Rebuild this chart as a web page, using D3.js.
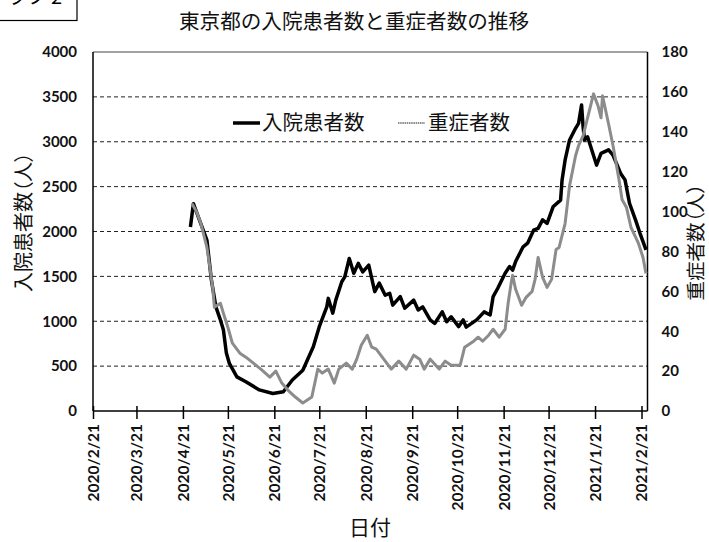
<!DOCTYPE html>
<html><head><meta charset="utf-8">
<script src="https://cdn.jsdelivr.net/npm/d3@7"></script>
<style>body{margin:0;background:#fff} svg{display:block}</style>
</head><body><svg id="c" width="709" height="542"></svg>
<script>
const chartTitle = "東京都の入院患者数と重症者数の推移";
const seriesNames = ["入院患者数", "重症者数"];
const leftAxisTitle = "入院患者数（人）";
const rightAxisTitle = "重症者数（人）";
const xAxisTitle = "日付";
const cornerLabel = "グラフ 2";

const leftTicks = [0, 500, 1000, 1500, 2000, 2500, 3000, 3500, 4000];
const rightTicks = [0, 20, 40, 60, 80, 100, 120, 140, 160, 180];
const xTickDates = ["2020-02-21","2020-03-21","2020-04-21","2020-05-21","2020-06-21","2020-07-21","2020-08-21","2020-09-21","2020-10-21","2020-11-21","2020-12-21","2021-01-21","2021-02-21"];
const xTickLabels = ["2020/2/21","2020/3/21","2020/4/21","2020/5/21","2020/6/21","2020/7/21","2020/8/21","2020/9/21","2020/10/21","2020/11/21","2020/12/21","2021/1/21","2021/2/21"];
const xDomain = ["2020-02-21", "2021-02-25"];

// 入院患者数 (left axis)
const hospDates = ["2020-04-26","2020-04-28","2020-05-02","2020-05-07","2020-05-10","2020-05-13","2020-05-16","2020-05-18","2020-05-20","2020-05-22","2020-05-27","2020-06-02","2020-06-11","2020-06-20","2020-06-27","2020-07-03","2020-07-10","2020-07-17","2020-07-21","2020-07-26","2020-07-27","2020-07-30","2020-08-01","2020-08-05","2020-08-07","2020-08-10","2020-08-13","2020-08-16","2020-08-19","2020-08-23","2020-08-27","2020-08-30","2020-09-03","2020-09-06","2020-09-08","2020-09-13","2020-09-16","2020-09-22","2020-09-25","2020-09-28","2020-10-03","2020-10-06","2020-10-11","2020-10-14","2020-10-17","2020-10-22","2020-10-25","2020-10-27","2020-11-03","2020-11-08","2020-11-12","2020-11-14","2020-11-17","2020-11-22","2020-11-25","2020-11-27","2020-11-29","2020-12-04","2020-12-07","2020-12-11","2020-12-14","2020-12-17","2020-12-20","2020-12-24","2020-12-29","2020-12-30","2021-01-01","2021-01-04","2021-01-08","2021-01-10","2021-01-12","2021-01-13","2021-01-14","2021-01-16","2021-01-22","2021-01-25","2021-01-30","2021-02-02","2021-02-07","2021-02-10","2021-02-13","2021-02-17","2021-02-20","2021-02-24"];
const hospValues = [2050,2310,2130,1905,1460,1160,1015,905,645,530,380,325,235,195,215,345,455,715,940,1160,1255,1090,1235,1440,1495,1700,1535,1645,1550,1625,1330,1425,1290,1310,1180,1275,1145,1235,1125,1160,1015,975,1105,995,1050,940,1015,935,1015,1105,1070,1275,1365,1535,1610,1570,1665,1830,1870,2015,2035,2130,2090,2275,2350,2575,2795,3020,3150,3205,3410,3170,3020,3055,2740,2870,2910,2850,2650,2575,2315,2130,1980,1795];

// 重症者数 (right axis)
const severeDates = ["2020-04-27","2020-04-30","2020-05-03","2020-05-07","2020-05-09","2020-05-11","2020-05-12","2020-05-16","2020-05-18","2020-05-21","2020-05-24","2020-05-29","2020-06-02","2020-06-07","2020-06-12","2020-06-18","2020-06-22","2020-06-26","2020-06-30","2020-07-05","2020-07-10","2020-07-16","2020-07-20","2020-07-23","2020-07-27","2020-07-31","2020-08-03","2020-08-08","2020-08-12","2020-08-15","2020-08-18","2020-08-22","2020-08-25","2020-08-28","2020-09-02","2020-09-07","2020-09-12","2020-09-17","2020-09-22","2020-09-26","2020-09-29","2020-10-03","2020-10-09","2020-10-13","2020-10-17","2020-10-23","2020-10-26","2020-11-01","2020-11-04","2020-11-07","2020-11-11","2020-11-14","2020-11-18","2020-11-22","2020-11-24","2020-11-26","2020-11-27","2020-11-29","2020-12-03","2020-12-06","2020-12-10","2020-12-12","2020-12-14","2020-12-17","2020-12-20","2020-12-23","2020-12-26","2020-12-28","2021-01-01","2021-01-04","2021-01-08","2021-01-10","2021-01-13","2021-01-15","2021-01-20","2021-01-23","2021-01-25","2021-01-26","2021-01-30","2021-02-02","2021-02-06","2021-02-08","2021-02-11","2021-02-14","2021-02-19","2021-02-22","2021-02-24"];
const severeValues = [104,100,94,82,72,61,52,54,49,42,34,29,27,24,21,17,20,14,10.5,7,4,7,21,19,21,14,21,24,21,26,33,38,32,31,26,21,25,21,28,26,21,26,21,25,23,23,32,35,37,35,38,41,37,41,54,64,68,61,53,57,60,66,77,67,62,66,81,82,94,113,128,133,138,144,159,153,147,158,144,133,116,106,102,92,84,77,69];

const parse = d3.utcParse("%Y-%m-%d");
const svg = d3.select("#c");
const M = {left: 93, right: 647.5, top: 52, bottom: 411};

const x = d3.scaleUtc().domain(xDomain.map(parse)).range([M.left, M.right]);
const yL = d3.scaleLinear().domain([0, 4000]).range([M.bottom, M.top]);
const yR = d3.scaleLinear().domain([0, 180]).range([M.bottom, M.top]);

const tickFont = "Lato, 'DejaVu Sans', sans-serif";
const cjkFont = "'Noto Sans CJK JP', sans-serif";
const fmt = d3.format("d");

svg.append("rect").attr("width", 709).attr("height", 542).attr("fill", "#fff");

// corner box (cut off at the page edge, as in the source)
svg.append("rect").attr("x", -10).attr("y", -20).attr("width", 87).attr("height", 40.5)
  .attr("fill", "none").attr("stroke", "#000").attr("stroke-width", 1.2);
svg.append("text").attr("x", 62).attr("y", 4).attr("text-anchor", "end")
  .attr("font-family", cjkFont).attr("font-size", 20).text(cornerLabel);

// title
svg.append("text").attr("x", 354).attr("y", 29).attr("text-anchor", "middle")
  .attr("font-family", cjkFont).attr("font-size", 20.6).attr("fill", "#111").text(chartTitle);

// gridlines
svg.append("g").selectAll("line").data(leftTicks.filter(v => v > 0 && v < 4000)).join("line")
  .attr("x1", M.left).attr("x2", M.right)
  .attr("y1", d => yL(d)).attr("y2", d => yL(d))
  .attr("stroke", "#222").attr("stroke-width", 1).attr("stroke-dasharray", "4,3");

// frame
svg.append("line").attr("x1", M.left).attr("x2", M.right).attr("y1", M.top).attr("y2", M.top).attr("stroke", "#444").attr("stroke-width", 1);
svg.append("line").attr("x1", M.left).attr("x2", M.left).attr("y1", M.top).attr("y2", M.bottom).attr("stroke", "#000").attr("stroke-width", 1.5);
svg.append("line").attr("x1", M.right).attr("x2", M.right).attr("y1", M.top).attr("y2", M.bottom).attr("stroke", "#000").attr("stroke-width", 1.5);

// left axis
const gL = svg.append("g").attr("transform", `translate(${M.left},0)`)
  .call(d3.axisLeft(yL).tickValues(leftTicks).tickFormat(fmt).tickSize(0).tickPadding(16));
gL.select(".domain").remove();
gL.selectAll("text").attr("font-family", tickFont).attr("font-size", 15).attr("font-weight", 700).attr("fill", "#111");

// right axis
const gR = svg.append("g").attr("transform", `translate(${M.right},0)`)
  .call(d3.axisRight(yR).tickValues(rightTicks).tickFormat(fmt).tickSize(0).tickPadding(14));
gR.select(".domain").remove();
gR.selectAll("text").attr("font-family", tickFont).attr("font-size", 15).attr("font-weight", 700).attr("fill", "#111");

// x axis
const gX = svg.append("g").attr("transform", `translate(0,${M.bottom})`)
  .call(d3.axisBottom(x).tickValues(xTickDates.map(parse)).tickFormat((d, i) => xTickLabels[i]).tickSize(8));
gX.select(".domain").attr("stroke", "#000").attr("stroke-width", 1.5).attr("d", `M${M.left},0H${M.right}`);
gX.selectAll(".tick line").attr("y1", -5).attr("y2", 8).attr("stroke", "#000").attr("stroke-width", 1.5);
gX.selectAll(".tick text")
  .attr("transform", "rotate(-90)").attr("text-anchor", "end")
  .attr("x", -13).attr("y", 0).attr("dy", "0.35em")
  .attr("font-family", tickFont).attr("font-size", 15.5).attr("font-weight", 700).attr("fill", "#111");

// series
const hosp = hospDates.map((d, i) => ({date: parse(d), v: hospValues[i]}));
const severe = severeDates.map((d, i) => ({date: parse(d), v: severeValues[i]}));

svg.append("path").datum(hosp)
  .attr("d", d3.line().x(d => x(d.date)).y(d => yL(d.v)))
  .attr("fill", "none").attr("stroke", "#000").attr("stroke-width", 3.5).attr("stroke-linejoin", "round");
svg.append("path").datum(severe)
  .attr("d", d3.line().x(d => x(d.date)).y(d => yR(d.v)))
  .attr("fill", "none").attr("stroke", "#8c8c8c").attr("stroke-width", 3).attr("stroke-linejoin", "round");

// legend
svg.append("line").attr("x1", 233).attr("x2", 260).attr("y1", 123).attr("y2", 123).attr("stroke", "#000").attr("stroke-width", 3.5);
svg.append("text").attr("x", 262).attr("y", 130).attr("font-family", cjkFont).attr("font-size", 20.5).attr("fill", "#111").text(seriesNames[0]);
svg.append("line").attr("x1", 398).attr("x2", 425).attr("y1", 123).attr("y2", 123).attr("stroke", "#8c8c8c").attr("stroke-width", 2).attr("stroke-dasharray", "1.5,0.7");
svg.append("text").attr("x", 428).attr("y", 130).attr("font-family", cjkFont).attr("font-size", 20.5).attr("fill", "#111").text(seriesNames[1]);

// axis titles
svg.append("text").attr("transform", "translate(31,222) rotate(-90)").attr("text-anchor", "middle")
  .attr("font-family", cjkFont).attr("font-size", 20).attr("fill", "#111")
  .style("font-feature-settings", "'palt'").text(leftAxisTitle);
svg.append("text").attr("transform", "translate(703,242) rotate(-90)").attr("text-anchor", "middle")
  .attr("font-family", cjkFont).attr("font-size", 19.5).attr("fill", "#111")
  .style("font-feature-settings", "'palt'").text(rightAxisTitle);
svg.append("text").attr("x", 370).attr("y", 535).attr("text-anchor", "middle")
  .attr("font-family", cjkFont).attr("font-size", 21).attr("fill", "#111").text(xAxisTitle);
</script>
</body></html>
